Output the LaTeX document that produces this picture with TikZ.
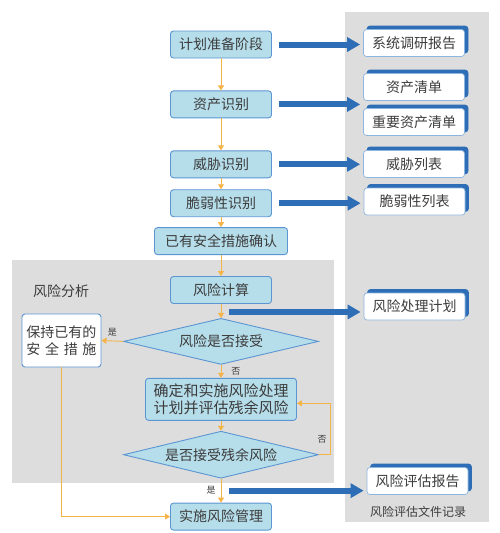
\documentclass[tikz,border=0pt]{standalone}
\usepackage{fontspec}
\setmainfont{Noto Sans CJK SC}
\usetikzlibrary{
  arrows.meta, % for the arrow heads
  positioning,
  shapes.geometric,
  shadows,
}
\definecolor{boxfill}{RGB}{182,221,234}
\definecolor{boxline}{RGB}{91,150,210}
\definecolor{arrowblue}{RGB}{46,110,182}
\definecolor{floworange}{RGB}{244,180,72}
\definecolor{panelgray}{RGB}{221,221,221}
\definecolor{textgray}{RGB}{60,60,60}

\begin{document}
\begin{tikzpicture}[x=1pt, y=-1pt,
    font=\fontsize{14}{17}\selectfont, text=textgray,
    stepbox/.style={draw=boxline, fill=boxfill, rounded corners=3pt, line width=0.9pt,
      minimum width=101pt, minimum height=27pt, inner sep=2pt, align=center},
    decision/.style={diamond, draw=boxline, fill=boxfill, line width=0.9pt, aspect=4.2,
      minimum width=195pt, minimum height=46pt, inner sep=0pt},
    docbox/.style={draw=boxline!70, fill=white, rounded corners=3pt, line width=0.7pt,
      minimum width=101pt, minimum height=27pt,
      copy shadow={shadow xshift=3.5pt, shadow yshift=3.5pt, fill=arrowblue, draw=arrowblue}},
    flow/.style={draw=floworange, line width=0.9pt, -{Triangle[length=5pt, width=6pt]}},
    bigarrow/.style={draw=arrowblue, line width=6pt, -{Triangle[length=13pt, width=14pt]},
      shorten >=3pt},
    tag/.style={font=\fontsize{9}{10}\selectfont, inner sep=1pt},
  ]
  \useasboundingbox (0,0) rectangle (500,533);
  \fill[panelgray] (345,12) rectangle (489,522);
  \fill[panelgray] (12,260) rectangle (334,483);

  % main steps
  \node[stepbox] (plan) at (221,44.5) {计划准备阶段};
  \node[stepbox, below=32pt of plan] (asset) {资产识别};
  \node[stepbox, below=32pt of asset] (threat) {威胁识别};
  \node[stepbox, below=11pt of threat] (vuln) {脆弱性识别};
  \node[stepbox, below=10pt of vuln, minimum width=133pt] (confirm) {已有安全措施确认};
  \node[stepbox, below=21pt of confirm] (calc) {风险计算};
  \node[decision, below=14pt of calc] (accept) {风险是否接受};
  \node[stepbox, below=13pt of accept, minimum width=151pt, minimum height=42pt,
    font=\fontsize{15}{17}\selectfont] (treat) {确定和实施风险处理\\计划并评估残余风险};
  \node[decision, below=10pt of treat, minimum height=47pt] (residual) {是否接受残余风险};
  \node[stepbox, below=24pt of residual] (manage) {实施风险管理};
  \node[stepbox, fill=white, minimum width=79pt, minimum height=53pt] (keep) at (61.5,340.5)
    {保持已有的\\\hbox to 5em{安\hfil 全\hfil 措\hfil 施}};
  \node (analysis) at (61,291) {风险分析};

  % documents
  \node[docbox] (sysreport) at (414,43) {系统调研报告};
  \node[docbox] (assetlist) at (414,87) {资产清单};
  \node[docbox] (keyasset) at (414,122) {重要资产清单};
  \node[docbox] (threatlist) at (414,164) {威胁列表};
  \node[docbox] (vulnlist) at (414.5,201.5) {脆弱性列表};
  \node[docbox] (riskplan) at (414.5,306.5) {风险处理计划};
  \node[docbox] (riskreport) at (417.5,481) {风险评估报告};
  \node[font=\fontsize{12}{14}\selectfont] (archive) at (418,512) {风险评估文件记录};

  \coordinate (calcgap) at ([xshift=8pt, yshift=-8pt]calc.south);
  \coordinate (resgap) at ([xshift=8pt, yshift=-12pt]residual.south);

  % blue arrows
  \draw[bigarrow, shorten <=7pt] (plan.east) -- (plan.east -| sysreport.west);
  \draw[bigarrow, shorten <=7pt] (asset.east) -- (asset.east -| keyasset.west);
  \draw[bigarrow, shorten <=7pt] (threat.east) -- (threat.east -| threatlist.west);
  \draw[bigarrow, shorten <=7pt] (vuln.east) -- (vuln.east -| vulnlist.west);
  \draw[bigarrow] (calcgap) -- (calcgap -| riskplan.west);
  \draw[bigarrow] (resgap) -- (resgap -| riskreport.west);

  % flow
  \draw[flow] (plan) -- (asset);
  \draw[flow] (asset) -- (threat);
  \draw[flow] (threat) -- (vuln);
  \draw[flow] (vuln) -- (confirm);
  \draw[flow] (confirm) -- (calc);
  \draw[flow] (calc) -- (accept);
  \draw[flow] (accept) -- node[tag, right=9pt] {否} (treat);
  \draw[flow] (accept.west) -- node[tag, above=3pt] {是} (keep.east);
  \draw[flow] (treat) -- (residual);
  \draw[flow] (residual.east) -- ++(11,0) |- node[tag, pos=0.15, left=2pt] {否} ([yshift=-4pt]treat.east);
  \draw[flow] (residual) -- node[tag, left=4pt] {是} (manage);
  \draw[flow] (keep.south) |- (manage.west);
\end{tikzpicture}
\end{document}
